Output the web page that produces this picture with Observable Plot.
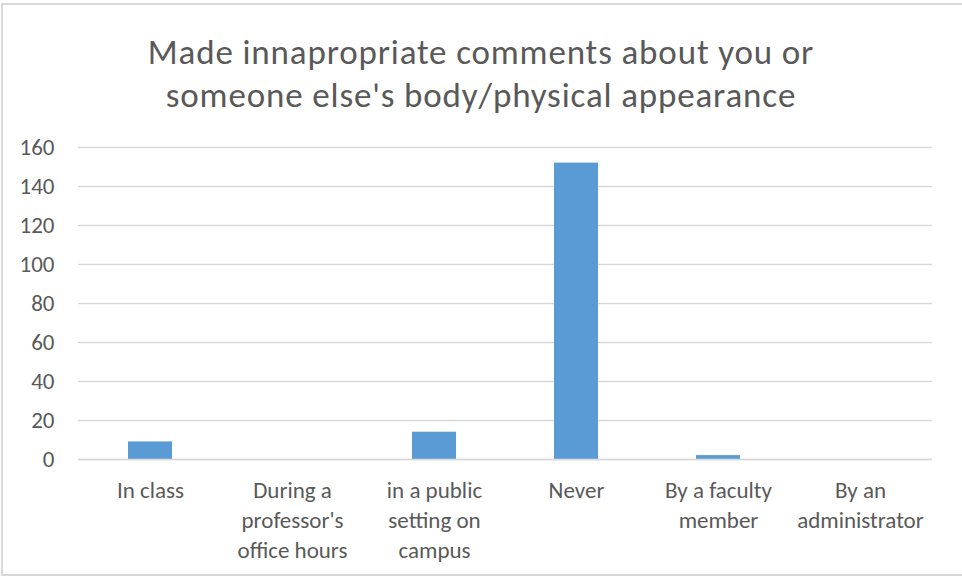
<!DOCTYPE html>
<html>
<head>
<meta charset="utf-8">
<script src="https://cdn.jsdelivr.net/npm/d3@7"></script>
<script src="https://cdn.jsdelivr.net/npm/@observablehq/plot@0.6"></script>
<style>
  html, body { margin: 0; padding: 0; background: #fff; overflow: hidden; }
  #page { position: relative; width: 962px; height: 576px; overflow: hidden; }
  #frame { position: absolute; left: 1px; top: 3px; width: 970px; height: 573px; border: 2px solid #d9d9d9; box-sizing: border-box; }
  #title { position: absolute; left: 0; top: 31px; width: 962px; text-align: center; font-family: Carlito, Lato, "Liberation Sans", sans-serif; font-size: 35px; letter-spacing: 0.85px; line-height: 43px; color: #595959; z-index: 2; }
  #chart { position: absolute; left: 0; top: 0; z-index: 1; }
</style>
</head>
<body>
<div id="page">
  <div id="frame"></div>
  <div id="chart"></div>
  <div id="title">Made innapropriate comments about you or<br>someone else's body/physical appearance</div>
</div>
<script>
const categories = ["In class", "During a professor's office hours", "in a public setting on campus", "Never", "By a faculty member", "By an administrator"];
const values = [9, 0, 14, 152, 2, 0];
const tickLabels = ["In class", "During a\nprofessor's\noffice hours", "in a public\nsetting on\ncampus", "Never", "By a faculty\nmember", "By an\nadministrator"];
const yTicks = [0, 20, 40, 60, 80, 100, 120, 140, 160];

const data = categories.map((c, i) => ({category: c, value: values[i], label: tickLabels[i]}));
const font = 'Carlito, Lato, "Liberation Sans", sans-serif';

const chart = Plot.plot({
  width: 962,
  height: 576,
  marginLeft: 78,
  marginRight: 30,
  marginTop: 147,
  marginBottom: 117,
  style: {fontFamily: font, fontSize: "23px", color: "#595959", background: "transparent"},
  x: {domain: categories, padding: 0, axis: null},
  y: {domain: [0, 160], axis: null},
  marks: [
    Plot.ruleY(yTicks, {stroke: "#d9d9d9", strokeWidth: 1.3}),
    Plot.barY(data, {x: "category", y: "value", fill: "#5b9bd5", insetLeft: 49, insetRight: 49}),
    Plot.ruleY([0], {stroke: "#d9d9d9", strokeWidth: 1.6}),
    Plot.text(yTicks, {y: d => d, text: d => String(d), frameAnchor: "left", textAnchor: "end", dx: -24, fill: "#595959", fontSize: 23}),
    Plot.text(data, {x: "category", y: 0, text: "label", lineAnchor: "top", dy: 17, lineHeight: 1.3, fill: "#595959", fontSize: 23})
  ]
});
document.getElementById("chart").appendChild(chart);
</script>
</body>
</html>
